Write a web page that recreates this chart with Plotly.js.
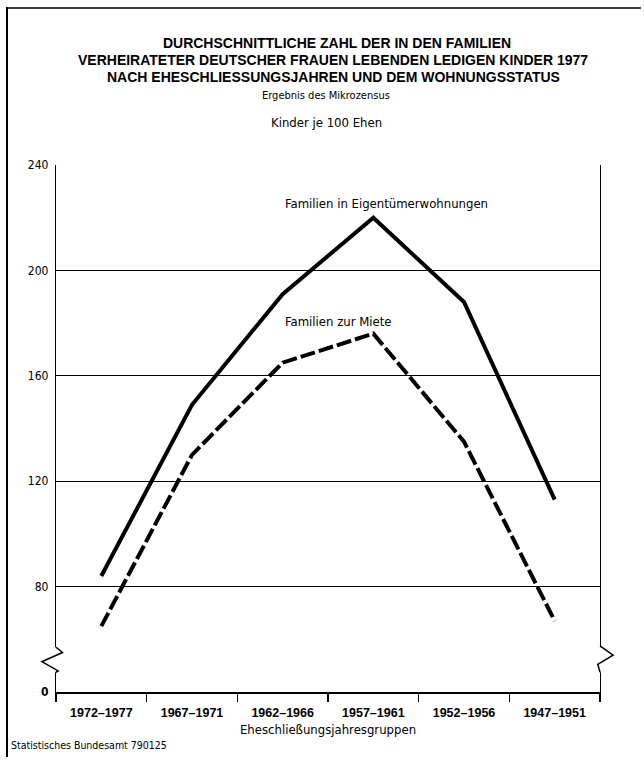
<!DOCTYPE html>
<html>
<head>
<meta charset="utf-8">
<script src="https://cdn.plot.ly/plotly-3.0.1.min.js"></script>
<style>html,body{margin:0;padding:0;background:#fff;}#chart{width:644px;height:762px;}</style>
</head>
<body>
<div id="chart"></div>
<script>
// ---- data ----
var groups = ['1972\u20131977', '1967\u20131971', '1962\u20131966', '1957\u20131961', '1952\u20131956', '1947\u20131951'];
var ownerValues = [84, 149, 191, 220, 188, 113];   // Familien in Eigentümerwohnungen
var rentValues  = [65, 130, 165, 176, 135, 67];    // Familien zur Miete
var yTickVals  = [40, 80, 120, 160, 200, 240];      // axis broken below 80: the "0" sits where 40 would be
var yTickText  = ['<b>0</b>', '80', '120', '160', '200', '240'];
var ownerLabel = 'Familien in Eigentümerwohnungen';
var rentLabel  = 'Familien zur Miete';
var titleLines = ['DURCHSCHNITTLICHE ZAHL DER IN DEN FAMILIEN',
                  'VERHEIRATETER DEUTSCHER FRAUEN LEBENDEN LEDIGEN KINDER 1977',
                  'NACH EHESCHLIESSUNGSJAHREN UND DEM WOHNUNGSSTATUS'];

var narrow = 'Liberation Sans Narrow, DejaVu Sans Condensed, Arial Narrow, sans-serif';
var wide = 'Liberation Sans, Arial, sans-serif';

var traces = [
  {x: groups, y: ownerValues, type: 'scatter', mode: 'lines', name: ownerLabel,
   line: {color: '#000', width: 4}, hoverinfo: 'skip'},
  {x: groups, y: rentValues, type: 'scatter', mode: 'lines', name: rentLabel,
   line: {color: '#000', width: 4, dash: '15px,4px'}, hoverinfo: 'skip'}
];

function py(pix) { return 1 + (165 - pix) / 527; }   // pixel row -> paper y
function px(pix) { return (pix - 56) / 544; }        // pixel col -> paper x

var layout = {
  width: 644, height: 762,
  margin: {l: 56, r: 44, t: 165, b: 70},
  paper_bgcolor: '#fff', plot_bgcolor: '#fff',
  showlegend: false,
  title: {
    text: '<b>' + titleLines[0] + '</b>',
    font: {family: wide, size: 14, color: '#000'},
    x: 337/644, xref: 'container', xanchor: 'center',
    y: 1 - 43/762, yref: 'container', yanchor: 'middle'
  },
  xaxis: {
    type: 'category',
    range: [-0.5, 5.5],
    showline: true, linecolor: '#000', linewidth: 2,
    ticks: 'outside', tickson: 'boundaries', ticklen: 8, tickwidth: 1.5, tickcolor: '#000',
    ticklabelstandoff: 8,
    showgrid: false, zeroline: false,
    tickfont: {family: wide, size: 12.5, color: '#000', weight: 'bold'},
    title: {text: 'Eheschließungsjahresgruppen', font: {family: narrow, size: 13, color: '#000'}, standoff: 6},
    fixedrange: true
  },
  yaxis: {
    range: [40, 240],
    tickvals: yTickVals, ticktext: yTickText,
    showline: true, mirror: true, linecolor: '#000', linewidth: 1.2,
    showgrid: true, gridcolor: '#000', gridwidth: 1,
    zeroline: false, ticks: '', ticklabelstandoff: 4,
    tickfont: {family: narrow, size: 12, color: '#000'},
    fixedrange: true
  },
  annotations: [
    {text: '<b>' + titleLines[1] + '</b>', xref: 'paper', yref: 'paper', x: px(333), y: py(60),
     xanchor: 'center', yanchor: 'middle', showarrow: false, font: {family: wide, size: 14, color: '#000'}},
    {text: '<b>' + titleLines[2] + '</b>', xref: 'paper', yref: 'paper', x: px(333), y: py(77),
     xanchor: 'center', yanchor: 'middle', showarrow: false, font: {family: wide, size: 14, color: '#000'}},
    {text: 'Ergebnis des Mikrozensus', xref: 'paper', yref: 'paper', x: px(326), y: py(95),
     xanchor: 'center', yanchor: 'middle', showarrow: false, font: {family: narrow, size: 11, color: '#000'}},
    {text: 'Kinder je 100 Ehen', xref: 'paper', yref: 'paper', x: px(326), y: py(122),
     xanchor: 'center', yanchor: 'middle', showarrow: false, font: {family: narrow, size: 13, color: '#000'}},
    {text: ownerLabel, xref: 'x', yref: 'y', x: groups[2], y: 225.5, xanchor: 'left', yanchor: 'middle',
     showarrow: false, font: {family: narrow, size: 13, color: '#000'}},
    {text: rentLabel, xref: 'x', yref: 'y', x: groups[2], y: 180.5, xanchor: 'left', yanchor: 'middle',
     showarrow: false, font: {family: narrow, size: 13, color: '#000'}},
    {text: 'Statistisches Bundesamt 790125', xref: 'paper', yref: 'paper', x: px(9), y: py(745),
     xanchor: 'left', yanchor: 'middle', showarrow: false, font: {family: narrow, size: 10.5, color: '#000'}}
  ],
  shapes: [
    // outer frame (left + top)
    {type: 'line', xref: 'paper', yref: 'paper', x0: px(7), x1: px(7), y0: py(757), y1: py(7),
     line: {color: '#000', width: 2}, layer: 'above'},
    {type: 'line', xref: 'paper', yref: 'paper', x0: px(7), x1: px(641), y0: py(8), y1: py(8),
     line: {color: '#000', width: 1.5}, layer: 'above'},
    // axis break: blank out a piece of both vertical axes
    {type: 'line', xref: 'paper', yref: 'y', x0: 0, x1: 0, y0: 47.5, y1: 57, line: {color: '#fff', width: 4}, layer: 'above'},
    {type: 'line', xref: 'paper', yref: 'y', x0: 1, x1: 1, y0: 47.5, y1: 57, line: {color: '#fff', width: 4}, layer: 'above'},
    // zigzags
    {type: 'path', xref: 'paper', yref: 'y', path: 'M 0 57 L 0.012 55 L -0.026 51.5 L 0.004 48 L 0 47.5',
     line: {color: '#000', width: 1.5}, layer: 'above'},
    {type: 'path', xref: 'paper', yref: 'y', path: 'M 1 57.5 L 1.024 54 L 0.996 50.5 L 1 47.5',
     line: {color: '#000', width: 1.5}, layer: 'above'}
  ]
};

Plotly.newPlot('chart', traces, layout, {staticPlot: true, displayModeBar: false});
</script>
</body>
</html>
